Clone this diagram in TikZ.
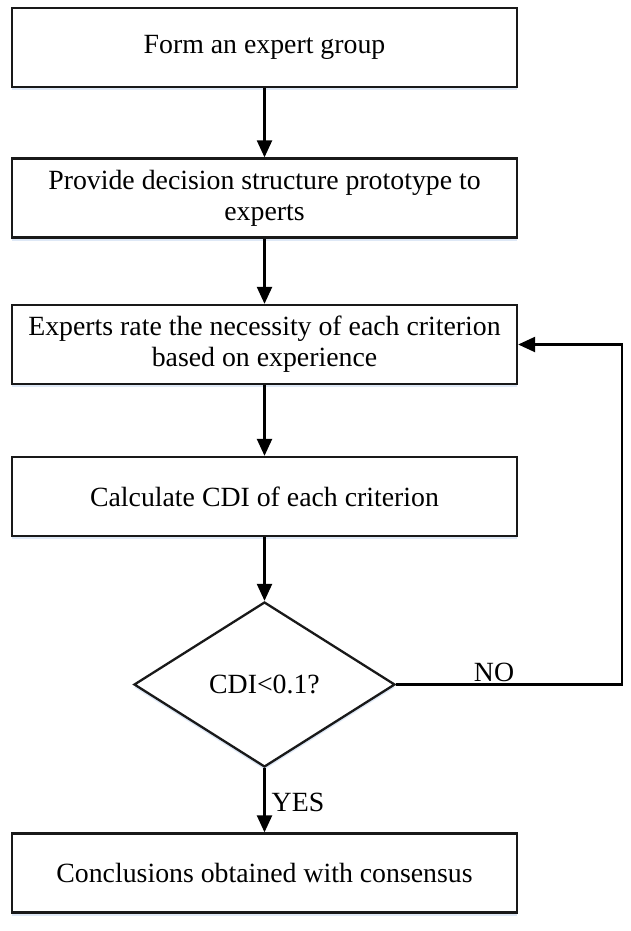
\documentclass[tikz,border=0pt]{standalone}
\usepackage{fontspec}
\setmainfont{Liberation Serif}
\usetikzlibrary{shapes.geometric,arrows.meta,shadows}
\definecolor{shadowc}{RGB}{222,232,246}
\definecolor{linec}{RGB}{25,25,25}
\begin{document}
\begin{tikzpicture}[x=1pt,y=-1pt,
  every node/.style={font=\fontsize{27.8}{31}\selectfont, text=black},
  procbox/.style={draw=linec, line width=2.3pt, fill=white, minimum width=505pt, minimum height=79pt,
    align=center, inner sep=0pt, drop shadow={shadow xshift=0pt, shadow yshift=-3pt, fill=shadowc, opacity=1}},
  decide/.style={draw=linec, diamond, line width=2.3pt, fill=white, minimum width=261pt, minimum height=165pt,
    inner sep=0pt, drop shadow={shadow xshift=0pt, shadow yshift=-3pt, fill=shadowc, opacity=1}},
  flow/.style={draw=black, line width=2.3pt, -{Triangle[length=17pt,width=15pt]}},
  lbl/.style={inner sep=0pt}]
\useasboundingbox (0,0) rectangle (630,931);
\node[procbox] (b1) at (264.5,47.5) {Form an expert group};
\node[procbox] (b2) at (264.5,198) {Provide decision structure prototype to\\experts};
\node[procbox] (b3) at (264.5,344.5) {Experts rate the necessity of each criterion\\based on experience};
\node[procbox] (b4) at (264.5,496.5) {Calculate CDI of each criterion};
\node[decide] (d) at (264.5,684.5) {CDI<0.1?};
\node[procbox] (b5) at (264.5,873) {Conclusions obtained with consensus};
\coordinate (fb) at (622,684.5);
\draw[flow] (b1) -- (b2);
\draw[flow] (b2) -- (b3);
\draw[flow] (b3) -- (b4);
\draw[flow] (b4) -- (d);
\draw[flow] (d) -- (b5);
\draw[flow] (d.east) -- (fb) |- (b3.east);
\node[lbl] (no) at (494,672) {NO};
\node[lbl] (yes) at (298,802) {YES};
\end{tikzpicture}
\end{document}
